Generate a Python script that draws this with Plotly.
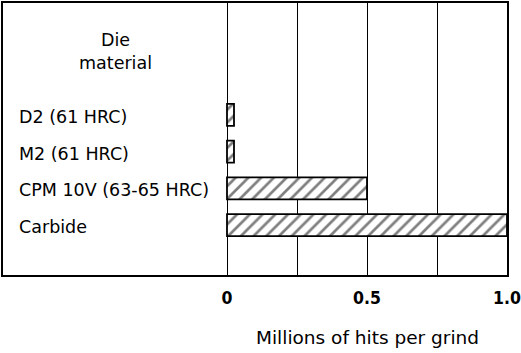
import plotly.graph_objects as go

materials = ["D2 (61 HRC)", "M2 (61 HRC)", "CPM 10V (63-65 HRC)", "Carbide"]
hits_millions = [0.025, 0.025, 0.5, 1.0]
tick_vals = [0, 0.25, 0.5, 0.75, 1.0]
tick_text = ["0", "", "0.5", "", "1.0"]

FONT = "DejaVu Sans, Liberation Sans, sans-serif"
NARROW = "DejaVu Sans Condensed, Liberation Sans Narrow, Liberation Sans, sans-serif"

fig = go.Figure()
fig.add_trace(go.Bar(
    x=hits_millions, y=materials, orientation="h", width=0.6,
    marker=dict(color="white", line=dict(color="black", width=1.8),
                pattern=dict(shape="/", fgcolor="black", bgcolor="white",
                             size=9, solidity=0.3)),
))

for m in materials:
    fig.add_annotation(x=-0.75, y=m, text=m, showarrow=False, xanchor="left",
                       yshift=-2, font=dict(family=FONT, size=17.5, color="black"))

fig.add_annotation(x=-0.4, y=-2.04, text="Die", showarrow=False,
                   font=dict(family=FONT, size=17.5, color="black"))
fig.add_annotation(x=-0.4, y=-1.42, text="material", showarrow=False,
                   font=dict(family=FONT, size=17.5, color="black"))
fig.add_annotation(x=0.5, xref="x", y=-0.228, yref="paper", yanchor="middle",
                   text="Millions of hits per grind", showarrow=False,
                   font=dict(family=FONT, size=18.5, color="black"))

fig.update_xaxes(range=[-0.8, 1.0], tickvals=tick_vals, ticktext=tick_text,
                 showgrid=True, gridcolor="black", gridwidth=1.3, zeroline=False,
                 showline=True, linecolor="black", linewidth=2, mirror=True,
                 ticks="", ticklabelstandoff=6, automargin=False,
                 tickfont=dict(family=NARROW, size=17.5, color="black", weight="bold"))
fig.update_yaxes(range=[4.36, -3.05], showticklabels=False, showgrid=False,
                 zeroline=False, showline=True, linecolor="black", linewidth=2,
                 mirror=True, ticks="", automargin=False)

fig.update_layout(width=521, height=353, margin=dict(l=3, r=14, t=3, b=78),
                  plot_bgcolor="white", paper_bgcolor="white", showlegend=False,
                  bargap=0.4)
fig.write_html("out.html")
